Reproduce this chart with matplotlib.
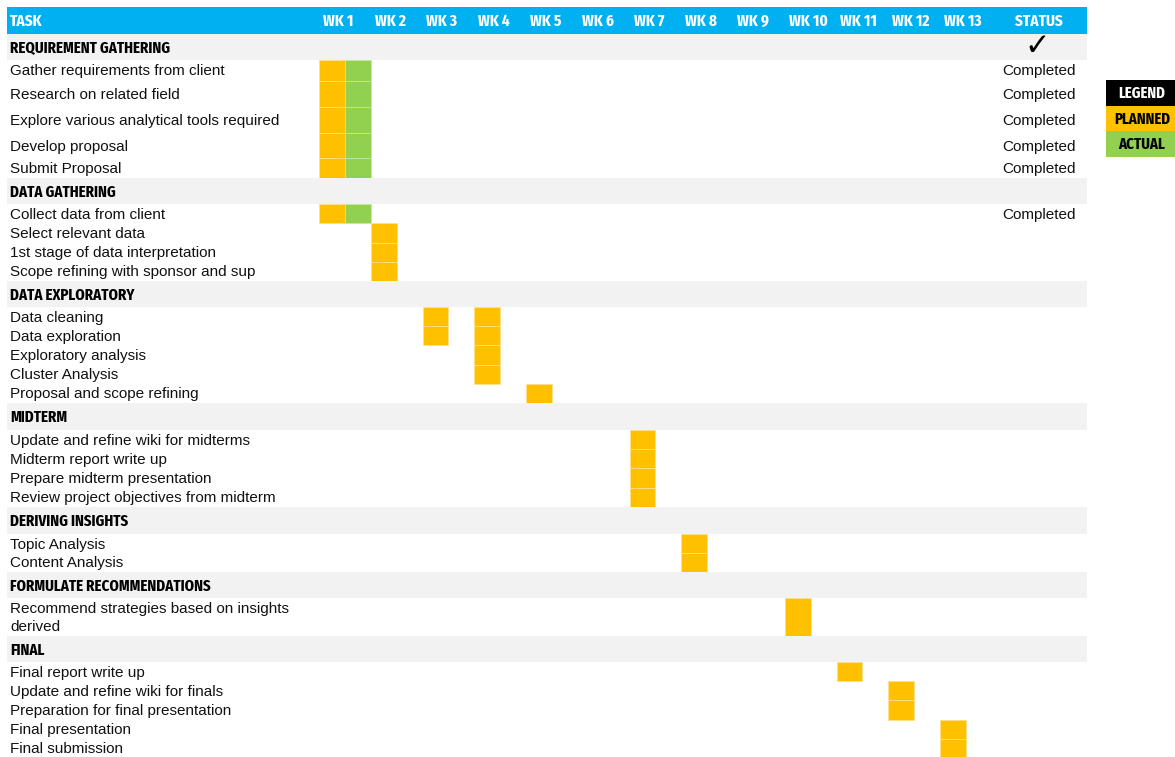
import matplotlib.pyplot as plt
from matplotlib import font_manager as fm

# ---- data ----
weeks = ["WK 1", "WK 2", "WK 3", "WK 4", "WK 5", "WK 6", "WK 7",
         "WK 8", "WK 9", "WK 10", "WK 11", "WK 12", "WK 13"]

sections = ["REQUIREMENT GATHERING", "DATA GATHERING", "DATA EXPLORATORY",
            "MIDTERM", "DERIVING INSIGHTS", "FORMULATE RECOMMENDATIONS", "FINAL"]

tasks = [
    ["Gather requirements from client", "Research on related field",
     "Explore various analytical tools required", "Develop proposal",
     "Submit Proposal"],
    ["Collect data from client", "Select relevant data",
     "1st stage of data interpretation", "Scope refining with sponsor and sup"],
    ["Data cleaning", "Data exploration", "Exploratory analysis",
     "Cluster Analysis", "Proposal and scope refining"],
    ["Update and refine wiki for midterms", "Midterm report write up",
     "Prepare midterm presentation", "Review project objectives from midterm"],
    ["Topic Analysis", "Content Analysis"],
    ["Recommend strategies based on insights\nderived"],
    ["Final report write up", "Update and refine wiki for finals",
     "Preparation for final presentation", "Final presentation",
     "Final submission"],
]

# planned weeks per task
planned = [
    [[1], [1], [1], [1], [1]],
    [[1], [2], [2], [2]],
    [[3, 4], [3, 4], [4], [4], [5]],
    [[7], [7], [7], [7]],
    [[8], [8]],
    [[10]],
    [[11], [12], [12], [13], [13]],
]

# actual weeks per task
actual = [
    [[1], [1], [1], [1], [1]],
    [[1], [], [], []],
    [[], [], [], [], []],
    [[], [], [], []],
    [[], []],
    [[]],
    [[], [], [], [], []],
]

status = [
    ["Completed"] * 5,
    ["Completed", "", "", ""],
    [""] * 5,
    [""] * 4,
    [""] * 2,
    [""],
    [""] * 5,
]
section_done = [True, False, False, False, False, False, False]

legend_items = ["LEGEND", "PLANNED", "ACTUAL"]


# ---- fonts: look for a narrow bold upright face for the headings ----
STRETCH_RANK = {"ultra-condensed": 4, "extra-condensed": 3, "condensed": 2,
                "semi-condensed": 1}


def pick_condensed():
    best = None
    for f in fm.fontManager.ttflist:
        low = (f.fname + f.name).lower()
        if "italic" in low or "oblique" in low or f.style != "normal":
            continue
        st = STRETCH_RANK.get(str(f.stretch), 0)
        if "narrow" in low or "condensed" in low:
            st = max(st, 2)
            if "extracondensed" in low.replace("-", "").replace(" ", ""):
                st = 3
        if st == 0:
            continue
        w = f.weight if isinstance(f.weight, int) else \
            {"bold": 700, "heavy": 800, "black": 900,
             "semibold": 600, "demibold": 600}.get(str(f.weight), 400)
        score = (w >= 700, st, -abs(w - 700))
        if best is None or score > best[0]:
            best = (score, f.fname)
    return best[1] if best else None


cond_file = pick_condensed()
if cond_file:
    COND = dict(fontproperties=fm.FontProperties(fname=cond_file))
else:
    COND = dict(fontfamily="DejaVu Sans", fontweight="bold",
                fontstretch="condensed")
BODY = "Liberation Sans"

# ---- layout / style ----
BLUE = "#00B0F0"
YELLOW = "#FFC000"
GREEN = "#92D050"
GREY = "#F2F2F2"

left, right = 7, 1087
header_top, header_bot = 7, 34
x0, colw = 319, 51.75
status_x = 1039
section_h = [26, 26, 26, 27, 27, 26, 26]
task_h = [
    [21, 26, 26, 25, 20],
    [19.25] * 4,
    [19.2] * 5,
    [19.25] * 4,
    [19, 19],
    [38],
    [19.2] * 5,
]

fig = plt.figure(figsize=(11.75, 7.57), dpi=100)
ax = fig.add_axes([0, 0, 1, 1])
ax.set_xlim(0, 1175)
ax.set_ylim(757, 0)
ax.axis("off")
renderer = fig.canvas.get_renderer()


def fit_size(s, target_px, max_size):
    # size the heading font so that a sample string has the reference width
    t = ax.text(0, 0, s, fontsize=12, **COND)
    wpx = t.get_window_extent(renderer).width
    t.remove()
    return min(max_size, 12 * target_px / wpx)


sec_size = fit_size("REQUIREMENT GATHERING", 160, 14.5)
hdr_size = fit_size("WK 10", 39, 13)
leg_size = fit_size("PLANNED", 56, 13)


def head(x, y, s, color, size, ha="left"):
    t = ax.text(x, y, s, color=color, va="center", ha=ha, **COND)
    t.set_fontsize(size)
    return t


# header bar
ax.bar(left, header_bot - header_top, width=right - left, bottom=header_top,
       align="edge", color=BLUE, linewidth=0)
hy = (header_top + header_bot) / 2 + 1
head(10, hy, "TASK", "white", hdr_size)
for i, w in enumerate(weeks):
    head(x0 + i * colw + 4, hy, w, "white", hdr_size)
head(status_x, hy, "STATUS", "white", hdr_size, ha="center")

y = header_bot
for s, name in enumerate(sections):
    h = section_h[s]
    ax.bar(left, h, width=right - left, bottom=y, align="edge",
           color=GREY, linewidth=0)
    head(10, y + h / 2 + 1, name, "black", sec_size)
    if section_done[s]:
        ax.text(status_x - 2, y + h / 2 - 1, "\u2713", fontfamily="DejaVu Sans",
                fontsize=22, va="center", ha="center", color="black")
    y += h
    for t, task in enumerate(tasks[s]):
        th = task_h[s][t]
        for wk in planned[s][t]:
            ax.bar(x0 + (wk - 1) * colw, th, width=colw / 2, bottom=y,
                   align="edge", color=YELLOW, edgecolor="#FFE08A",
                   linewidth=0.6)
        for wk in actual[s][t]:
            ax.bar(x0 + (wk - 1) * colw + colw / 2, th, width=colw / 2,
                   bottom=y, align="edge", color=GREEN, edgecolor="#C6E6A0",
                   linewidth=0.6)
        ax.text(10, y + th / 2 + 1, task, fontfamily=BODY, fontsize=11,
                va="center", ha="left", color="#111111", linespacing=1.3)
        if status[s][t]:
            ax.text(status_x, y + th / 2 + 1, status[s][t], fontfamily=BODY,
                    fontsize=11, va="center", ha="center", color="#111111")
        y += th

# legend
leg_colors = ["black", YELLOW, GREEN]
leg_text = ["white", "black", "black"]
ly = 80
for i, item in enumerate(legend_items):
    ax.bar(1106, 25.5, width=75, bottom=ly, align="edge",
           color=leg_colors[i], linewidth=0)
    head(1142, ly + 13.5, item, leg_text[i], leg_size, ha="center")
    ly += 25.5

fig.savefig("out.png", dpi=100, facecolor="white")
